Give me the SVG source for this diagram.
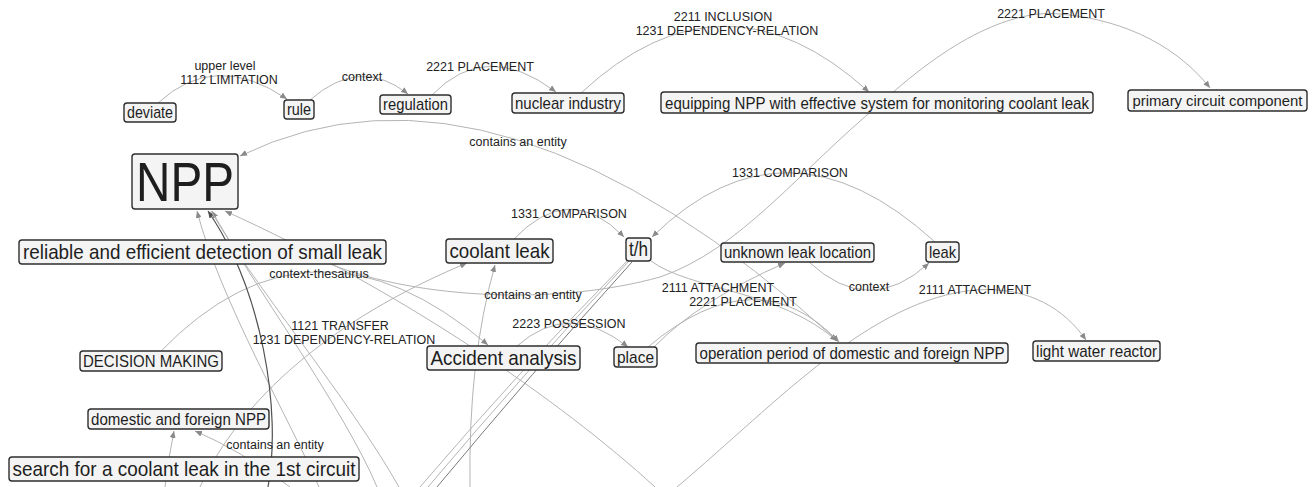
<svg xmlns="http://www.w3.org/2000/svg" width="1312" height="487" viewBox="0 0 1312 487">
  <style>
    .edge { fill: none; stroke: #b4b4b4; stroke-width: 1; }
    .edge.dark { stroke: #505050; stroke-width: 1.2; }
    .edge.mid { stroke: #7a7a7a; }
    .box { fill: #f4f4f4; stroke: #2e2e2e; stroke-width: 1.4; }
    .ntext { font-family: "Liberation Sans", Arial, sans-serif; fill: #1e1e1e; text-anchor: middle; }
    .elabel { font-family: "Liberation Sans", Arial, sans-serif; font-size: 12.5px; fill: #222; text-anchor: middle; }
  </style>
  <defs>
    <marker id="arrow" markerUnits="userSpaceOnUse" markerWidth="8" markerHeight="6" refX="7" refY="3" orient="auto">
      <path d="M0,0 L7,3 L0,6 z" fill="#8a8a8a"/>
    </marker>
    <marker id="arrowDark" markerUnits="userSpaceOnUse" markerWidth="8" markerHeight="6" refX="7" refY="3" orient="auto">
      <path d="M0,0 L7,3 L0,6 z" fill="#505050"/>
    </marker>
  </defs>
  <rect width="1312" height="487" fill="#ffffff"/>

  <!-- connectors -->
  <g id="edges">
    <path class="edge" d="M158,103 Q215,50 287,99" marker-end="url(#arrow)"/>
    <path class="edge" d="M310,100 Q360,56 408,94" marker-end="url(#arrow)"/>
    <path class="edge" d="M432,95 Q486,39 556,92" marker-end="url(#arrow)"/>
    <path class="edge" d="M581,93 Q724,-40 869,92" marker-end="url(#arrow)"/>
    <path class="edge" d="M330,264 C420,300 560,305 660,277 C740,250 800,170 880,104 C960,30 1020,10 1060,14 C1130,20 1180,50 1210,88" marker-end="url(#arrow)"/>
    <path class="edge" d="M839,342 Q496,31 240,156" marker-end="url(#arrow)"/>
    <path class="edge" d="M513,240 Q569,180 624,237" marker-end="url(#arrow)"/>
    <path class="edge" d="M935,242 Q786,106 652,237" marker-end="url(#arrow)"/>
    <path class="edge" d="M809,262 Q869,318 929,263" marker-end="url(#arrow)"/>
    <path class="edge" d="M651,261 C690,290 780,290 837,341" marker-end="url(#arrow)"/>
    <path class="edge" d="M648,347 Q757,255 839,342" marker-end="url(#arrow)"/>
    <path class="edge" d="M654,347 Q700,300 785,263" marker-end="url(#arrow)"/>
    <path class="edge" d="M517,346 Q569,300 628,347" marker-end="url(#arrow)"/>
    <path class="edge" d="M677,487 C780,400 870,300 975,290 C1030,286 1065,310 1086,340" marker-end="url(#arrow)"/>
    <path class="edge" d="M655,487 C560,400 400,290 225,211" marker-end="url(#arrow)"/>
    <path class="edge" d="M200,487 C240,400 330,320 467,263" marker-end="url(#arrow)"/>
    <path class="edge" d="M470,487 Q468,360 495,265" marker-end="url(#arrow)"/>
    <path class="edge" d="M420,487 Q520,370 627,261"/>
    <path class="edge" d="M428,487 Q525,372 629,261"/>
    <path class="edge mid" d="M437,487 Q530,375 632,262"/>
    <path class="edge" d="M160,352 Q312,195 488,345" marker-end="url(#arrow)"/>
    <path class="edge" d="M165,487 Q168,460 174,431" marker-end="url(#arrow)"/>
    <path class="edge" d="M290,487 Q240,450 195,431" marker-end="url(#arrow)"/>
    <path class="edge" d="M319,487 C290,420 220,300 197,211" marker-end="url(#arrow)"/>
    <path class="edge dark" d="M268,487 C282,410 262,290 208,211" marker-end="url(#arrowDark)"/>
    <path class="edge" d="M377,487 C345,410 250,280 212,211" marker-end="url(#arrow)"/>
    <path class="edge" d="M399,487 C350,400 250,280 211,211"/>
  </g>

  <!-- connector labels -->
  <g id="edge-labels">
    <text class="elabel" x="225" y="70">upper level</text>
    <text class="elabel" x="229" y="84">1112 LIMITATION</text>
    <text class="elabel" x="362" y="81">context</text>
    <text class="elabel" x="480" y="71">2221 PLACEMENT</text>
    <text class="elabel" x="723" y="21">2211 INCLUSION</text>
    <text class="elabel" x="727" y="35">1231 DEPENDENCY-RELATION</text>
    <text class="elabel" x="1051" y="18">2221 PLACEMENT</text>
    <text class="elabel" x="518" y="146">contains an entity</text>
    <text class="elabel" x="790" y="177">1331 COMPARISON</text>
    <text class="elabel" x="569" y="218">1331 COMPARISON</text>
    <text class="elabel" x="319" y="278">context-thesaurus</text>
    <text class="elabel" x="533" y="299">contains an entity</text>
    <text class="elabel" x="718" y="292">2111 ATTACHMENT</text>
    <text class="elabel" x="743" y="306">2221 PLACEMENT</text>
    <text class="elabel" x="869" y="291">context</text>
    <text class="elabel" x="975" y="294">2111 ATTACHMENT</text>
    <text class="elabel" x="569" y="328">2223 POSSESSION</text>
    <text class="elabel" x="340" y="330">1121 TRANSFER</text>
    <text class="elabel" x="344" y="344">1231 DEPENDENCY-RELATION</text>
    <text class="elabel" x="275" y="449">contains an entity</text>
  </g>

  <!-- nodes -->
  <g id="node-deviate">
    <rect class="box" x="124" y="103" width="52" height="19" rx="3"/>
    <text class="ntext" x="150" y="118" font-size="17" textLength="46" lengthAdjust="spacingAndGlyphs">deviate</text>
  </g>
  <g id="node-rule">
    <rect class="box" x="284" y="100" width="30" height="19" rx="3"/>
    <text class="ntext" x="299" y="115" font-size="17" textLength="24" lengthAdjust="spacingAndGlyphs">rule</text>
  </g>
  <g id="node-regulation">
    <rect class="box" x="380" y="95" width="71" height="19" rx="3"/>
    <text class="ntext" x="415.5" y="110" font-size="17" textLength="65" lengthAdjust="spacingAndGlyphs">regulation</text>
  </g>
  <g id="node-nuclear-industry">
    <rect class="box" x="512" y="93" width="112" height="20" rx="3"/>
    <text class="ntext" x="568" y="109" font-size="17" textLength="106" lengthAdjust="spacingAndGlyphs">nuclear industry</text>
  </g>
  <g id="node-equipping">
    <rect class="box" x="661" y="92" width="432" height="21" rx="3"/>
    <text class="ntext" x="877" y="108.5" font-size="17" textLength="424" lengthAdjust="spacingAndGlyphs">equipping NPP with effective system for monitoring coolant leak</text>
  </g>
  <g id="node-primary-circuit-component">
    <rect class="box" x="1128" y="90" width="179" height="21" rx="3"/>
    <text class="ntext" x="1217.5" y="106" font-size="15" textLength="170" lengthAdjust="spacingAndGlyphs">primary circuit component</text>
  </g>
  <g id="node-npp">
    <rect class="box" x="132" y="154" width="106" height="55" rx="3"/>
    <text class="ntext" x="185" y="201" font-size="56" textLength="98" lengthAdjust="spacingAndGlyphs">NPP</text>
  </g>
  <g id="node-reliable-detection">
    <rect class="box" x="19" y="240" width="367" height="24" rx="3"/>
    <text class="ntext" x="202.5" y="259" font-size="21" textLength="359" lengthAdjust="spacingAndGlyphs">reliable and efficient detection of small leak</text>
  </g>
  <g id="node-coolant-leak">
    <rect class="box" x="446" y="239" width="107" height="24" rx="3"/>
    <text class="ntext" x="499.5" y="258" font-size="21" textLength="100" lengthAdjust="spacingAndGlyphs">coolant leak</text>
  </g>
  <g id="node-th">
    <rect class="box" x="626" y="238" width="25" height="23" rx="3"/>
    <text class="ntext" x="638.5" y="256" font-size="20" textLength="19" lengthAdjust="spacingAndGlyphs">t/h</text>
  </g>
  <g id="node-unknown-leak-location">
    <rect class="box" x="721" y="243" width="153" height="19" rx="3"/>
    <text class="ntext" x="797.5" y="258" font-size="17" textLength="147" lengthAdjust="spacingAndGlyphs">unknown leak location</text>
  </g>
  <g id="node-leak">
    <rect class="box" x="926" y="242" width="33" height="20" rx="3"/>
    <text class="ntext" x="942.5" y="258" font-size="17" textLength="27" lengthAdjust="spacingAndGlyphs">leak</text>
  </g>
  <g id="node-decision-making">
    <rect class="box" x="80" y="351" width="142" height="20" rx="3"/>
    <text class="ntext" x="151" y="367" font-size="17" textLength="136" lengthAdjust="spacingAndGlyphs">DECISION MAKING</text>
  </g>
  <g id="node-accident-analysis">
    <rect class="box" x="427" y="346" width="153" height="24" rx="3"/>
    <text class="ntext" x="503.5" y="365" font-size="21" textLength="146" lengthAdjust="spacingAndGlyphs">Accident analysis</text>
  </g>
  <g id="node-place">
    <rect class="box" x="614" y="347" width="43" height="20" rx="3"/>
    <text class="ntext" x="635.5" y="363" font-size="17" textLength="37" lengthAdjust="spacingAndGlyphs">place</text>
  </g>
  <g id="node-operation-period">
    <rect class="box" x="696" y="343" width="312" height="20" rx="3"/>
    <text class="ntext" x="852" y="359" font-size="17" textLength="305" lengthAdjust="spacingAndGlyphs">operation period of domestic and foreign NPP</text>
  </g>
  <g id="node-light-water-reactor">
    <rect class="box" x="1033" y="341" width="127" height="20" rx="3"/>
    <text class="ntext" x="1096.5" y="357" font-size="17" textLength="121" lengthAdjust="spacingAndGlyphs">light water reactor</text>
  </g>
  <g id="node-domestic-foreign-npp">
    <rect class="box" x="88" y="409" width="181" height="20" rx="3"/>
    <text class="ntext" x="178.5" y="425" font-size="17" textLength="175" lengthAdjust="spacingAndGlyphs">domestic and foreign NPP</text>
  </g>
  <g id="node-search-coolant-leak">
    <rect class="box" x="9" y="457" width="350" height="24" rx="3"/>
    <text class="ntext" x="184" y="476" font-size="21" textLength="343" lengthAdjust="spacingAndGlyphs">search for a coolant leak in the 1st circuit</text>
  </g>
</svg>
